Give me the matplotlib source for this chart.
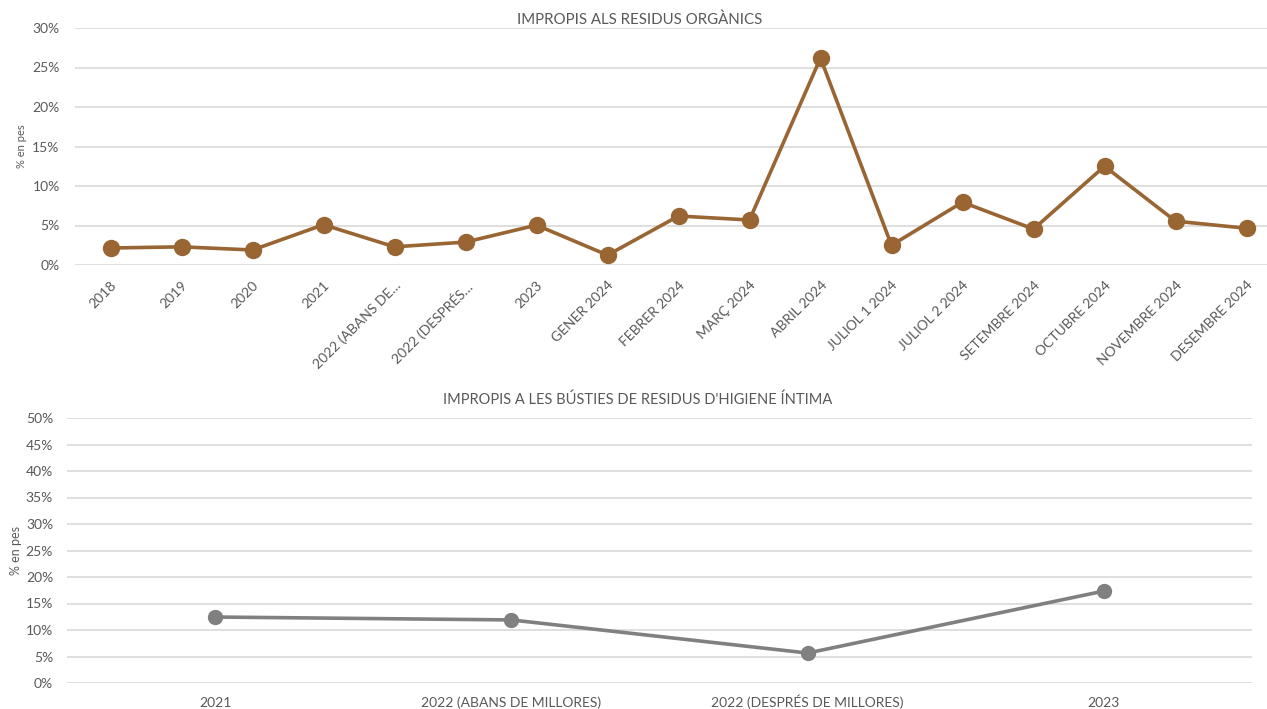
import matplotlib.pyplot as plt
from matplotlib.ticker import PercentFormatter

plt.rcParams['font.family'] = ['Lato', 'DejaVu Sans']

organic_labels = ['2018', '2019', '2020', '2021', '2022 (ABANS DE…', '2022 (DESPRÉS…', '2023',
                  'GENER 2024', 'FEBRER 2024', 'MARÇ 2024', 'ABRIL 2024', 'JULIOL 1 2024',
                  'JULIOL 2 2024', 'SETEMBRE 2024', 'OCTUBRE 2024', 'NOVEMBRE 2024', 'DESEMBRE 2024']
organic_pct = [2.15, 2.3, 1.9, 5.1, 2.3, 2.9, 5.05, 1.25, 6.2, 5.7, 26.2, 2.5, 7.95, 4.55, 12.5, 5.55, 4.65]

hygiene_labels = ['2021', '2022 (ABANS DE MILLORES)', '2022 (DESPRÉS DE MILLORES)', '2023']
hygiene_pct = [12.45, 11.9, 5.65, 17.35]

text_color = '#595959'
grid_color = '#d9d9d9'

fig = plt.figure(figsize=(12.67, 7.09), dpi=100)
fig.set_facecolor('white')


def style_axis(ax):
    for side in ['top', 'right', 'left', 'bottom']:
        ax.spines[side].set_visible(False)
    ax.grid(axis='y', color=grid_color, linewidth=1.2, zorder=0)
    ax.tick_params(axis='both', length=0, colors=text_color)
    ax.yaxis.set_major_formatter(PercentFormatter(decimals=0))


# top chart: organic waste
ax0 = fig.add_axes([75 / 1267, 1 - 265 / 709, 1192 / 1267, 237 / 709])
x0 = range(len(organic_labels))
ax0.plot(x0, organic_pct, color='#996633', linewidth=2.6, marker='o', markersize=11.5,
         zorder=3, clip_on=False)
ax0.set_xlim(-0.5, -0.5 + 1192 / 71)
ax0.set_ylim(0, 30)
ax0.set_yticks(range(0, 31, 5))
style_axis(ax0)
ax0.set_xticks(list(x0))
ax0.set_xticklabels(organic_labels, rotation=45, ha='right', rotation_mode='anchor', fontsize=10)
ax0.tick_params(axis='x', pad=10)
ax0.tick_params(axis='y', labelsize=10, pad=11)
ax0.set_ylabel('% en pes', fontsize=8, color=text_color, labelpad=4)
ax0.set_title('IMPROPIS ALS RESIDUS ORGÀNICS', fontsize=10.8, color=text_color, pad=3, x=(640 - 75) / 1192)

# bottom chart: intimate hygiene bins
ax1 = fig.add_axes([67 / 1267, 1 - 683 / 709, 1185 / 1267, 265 / 709])
x1 = range(len(hygiene_labels))
ax1.plot(x1, hygiene_pct, color='#808080', linewidth=2.6, marker='o', markersize=10,
         zorder=3, clip_on=False)
ax1.set_xlim(-0.5, 3.5)
ax1.set_ylim(0, 50)
ax1.set_yticks(range(0, 51, 5))
style_axis(ax1)
ax1.set_xticks(list(x1))
ax1.set_xticklabels(hygiene_labels, fontsize=10, va='baseline')
ax1.tick_params(axis='x', pad=17)
ax1.tick_params(axis='y', labelsize=10, pad=10)
ax1.set_ylabel('% en pes', fontsize=9, color=text_color, labelpad=3)
ax1.set_title("IMPROPIS A LES BÚSTIES DE RESIDUS D'HIGIENE ÍNTIMA", fontsize=10.5, color=text_color,
              pad=10, x=(638 - 67) / 1185)

fig.savefig('out.png', dpi=100, facecolor=fig.get_facecolor())
